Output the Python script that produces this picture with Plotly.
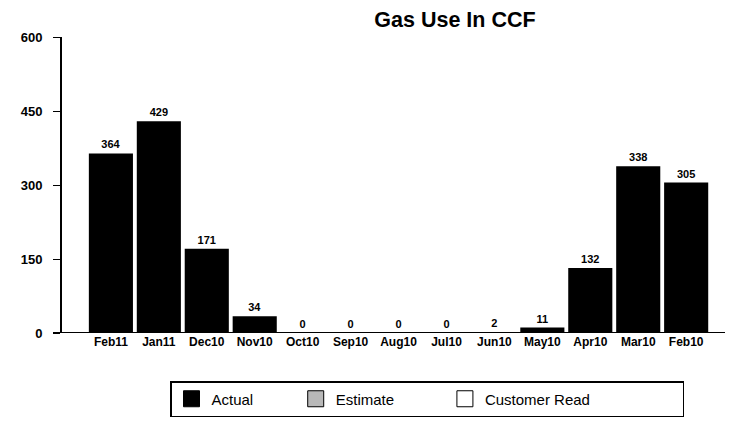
import plotly.graph_objects as go

months = ["Feb11", "Jan11", "Dec10", "Nov10", "Oct10", "Sep10", "Aug10",
          "Jul10", "Jun10", "May10", "Apr10", "Mar10", "Feb10"]
actual = [364, 429, 171, 34, 0, 0, 0, 0, 2, 11, 132, 338, 305]
y_ticks = [0, 150, 300, 450, 600]
legend_names = ["Actual", "Estimate", "Customer Read"]
legend_colors = ["black", "#b8b8b8", "white"]
legend_pad = [9, 11, 21]

# the page body adds an 8px offset; compensate in the margins
OFF = 8

fig = go.Figure()
fig.add_trace(go.Bar(
    x=months, y=actual, width=0.92,
    marker=dict(color="black", line=dict(width=0)),
    text=[str(v) for v in actual], textposition="outside",
    textfont=dict(family="Liberation Sans", size=11, color="black", weight="bold"),
    cliponaxis=False, showlegend=False,
))
for name, col, pad in zip(legend_names, legend_colors, legend_pad):
    fig.add_trace(go.Scatter(
        x=months, y=[None] * len(months), mode="markers",
        name=name + "\u00a0" * pad,
        marker=dict(symbol="square", size=16, color=col,
                    line=dict(color="black", width=1)),
    ))

fig.update_layout(
    width=735, height=423,
    margin=dict(l=62 - OFF, r=10 + OFF, t=37 - OFF, b=90 + OFF, autoexpand=False),
    paper_bgcolor="white", plot_bgcolor="white",
    font=dict(family="Liberation Sans", color="black"),
    title=dict(text="<b>Gas Use In CCF</b>", x=(455 - OFF) / 735, xanchor="center",
               y=1 - (19 - OFF) / 423, yanchor="middle",
               font=dict(size=21.5, family="Liberation Sans", color="black")),
    xaxis=dict(type="category", range=[-1.02, 12.81], showline=False,
               showgrid=False, ticks="", zeroline=False,
               tickfont=dict(size=12, weight="bold")),
    yaxis=dict(range=[0, 600], tickvals=y_ticks, showline=True, linecolor="black",
               linewidth=2, ticks="outside", ticklen=7, tickcolor="black",
               ticklabelstandoff=8, showgrid=False, zeroline=False,
               tickfont=dict(size=13, weight="bold")),
    legend=dict(orientation="h", x=(170 - 62) / 663, xanchor="left",
                y=(333 - 381) / 296, yanchor="top",
                bordercolor="black", borderwidth=1.5, bgcolor="white",
                font=dict(size=15, family="Liberation Sans", color="black")),
    shapes=[
        dict(type="line", xref="paper", yref="y", x0=-9 / 663, x1=1, y0=0, y1=0,
             line=dict(color="black", width=2)),
    ],
)

fig.write_html("out.html")
